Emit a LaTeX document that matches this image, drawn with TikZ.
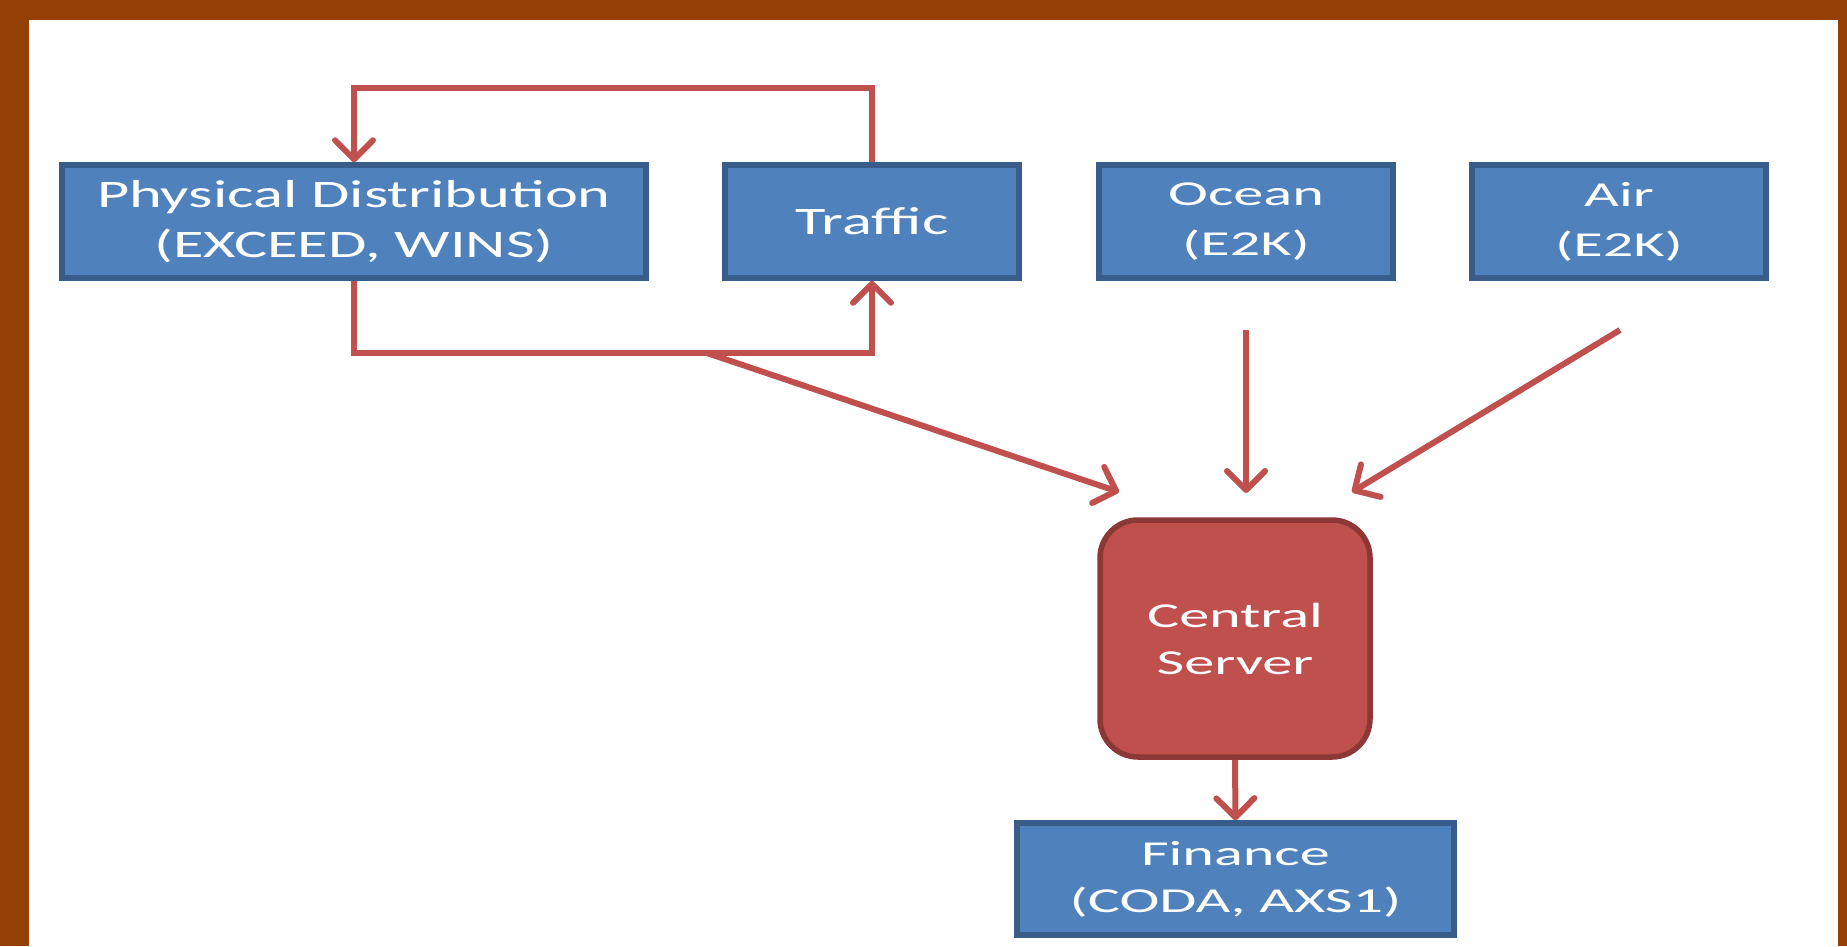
\documentclass[tikz,border=0pt]{standalone}
\usepackage{fontspec}
\setmainfont{Carlito}
\newfontfamily\labelfont[FakeStretch=1.6]{Carlito}
\newfontfamily\widefont[FakeStretch=1.72]{Carlito}
\usetikzlibrary{arrows.meta}

\definecolor{frame}{RGB}{148,63,4}
\definecolor{boxfill}{HTML}{4F81BD}
\definecolor{boxline}{HTML}{385D8A}
\definecolor{srvfill}{HTML}{C0504D}
\definecolor{srvline}{HTML}{8C3836}
\definecolor{flow}{HTML}{C0504D}

\tikzset{
  sysbox/.style={draw=boxline, fill=boxfill, line width=5.5pt, rectangle,
    inner sep=0pt, align=center, text=white},
  narrowtext/.style={font=\labelfont\fontsize{39}{50}\selectfont},
  widetext/.style={font=\widefont\fontsize{35}{50}\selectfont},
  lowtext/.style={font=\widefont\fontsize{35}{47}\selectfont},
  server/.style={draw=srvline, fill=srvfill, line width=5.5pt, rectangle,
    rounded corners=38pt, inner sep=0pt, align=center, text=white},
  flowline/.style={draw=flow, line width=6pt,
    -{Straight Barb[length=19pt, width=38pt, line cap=round, line join=round]}},
}

\begin{document}
\begin{tikzpicture}[x=1pt, y=-1pt]
  % page with brown frame
  \fill[frame] (0,0) rectangle (1847,946);
  \fill[white] (29,20) rectangle (1838,946);
  \useasboundingbox (0,0) rectangle (1847,946);

  % source systems
  \node[sysbox, narrowtext, minimum width=584pt, minimum height=113pt] (pd) at (354,221.5)
    {Physical Distribution\\(EXCEED, WINS)};
  \node[sysbox, narrowtext, minimum width=294pt, minimum height=113pt] (traffic) at (872,221.5)
    {Traffic};
  \node[sysbox, widetext, minimum width=294pt, minimum height=113pt] (ocean) at (1246,221.5)
    {Ocean\\(E2K)};
  \node[sysbox, widetext, minimum width=294pt, minimum height=113pt] (air) at (1619,221.5)
    {Air\\(E2K)};

  % hub and finance
  \node[server, lowtext, minimum width=270pt, minimum height=237pt] (cs) at (1235,638.5)
    {Central\\Server};
  \node[sysbox, lowtext, minimum width=437pt, minimum height=112pt] (fin) at (1235.5,879)
    {Finance\\(CODA, AXS1)};

  % free ends of the feeder arrows
  \coordinate (pdout) at (707,353);
  \coordinate (pdin) at (1119,492);
  \coordinate (oceanout) at (1246,330);
  \coordinate (oceanin) at (1246,493);
  \coordinate (airout) at (1620,330);
  \coordinate (airin) at (1352,492);

  % loops between Physical Distribution and Traffic
  \draw[flowline] (traffic.north) -- (traffic.north |- 0,88) -| (pd.north);
  \draw[flowline] (pd.south) -- (pd.south |- 0,353) -| (traffic.south);

  % feeds into the central server
  \draw[flowline] (pdout) -- (pdin);
  \draw[flowline] (oceanout) -- (oceanin);
  \draw[flowline] (airout) -- (airin);

  % central server to finance
  \draw[flowline] (cs.south) -- (fin.north);
\end{tikzpicture}
\end{document}
